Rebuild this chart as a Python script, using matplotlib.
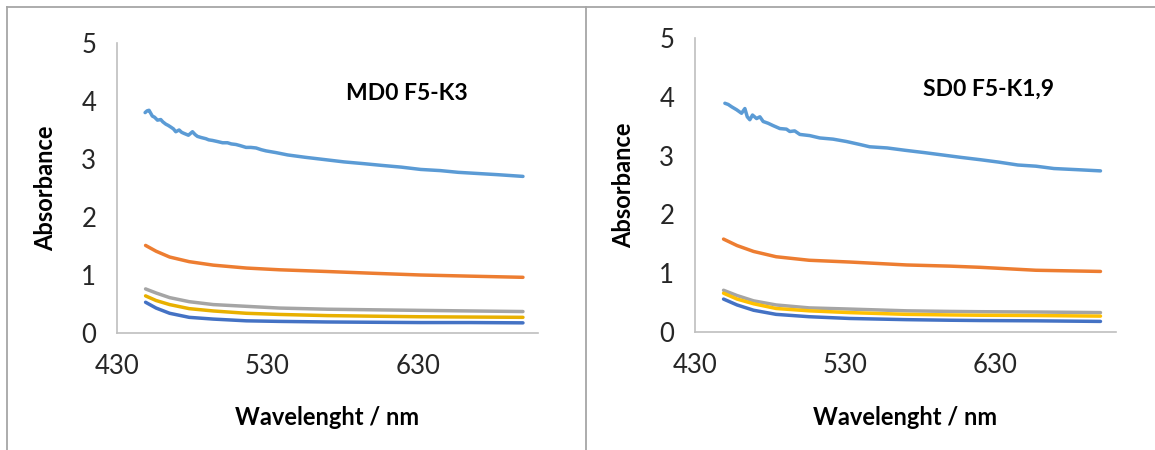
import matplotlib.pyplot as plt
from matplotlib.lines import Line2D

plt.rcParams["font.family"] = ["Lato", "DejaVu Sans"]

# colours of the five series (Excel default palette)
COLORS = ["#5B9BD5", "#ED7D31", "#A5A5A5", "#FFC000", "#4472C4"]
GOLD_LEFT = "#E8B000"

# ---- left panel: MD0 F5-K3 ----
md_title = "MD0 F5-K3"
md_wl_top = [448.7, 450, 451.3, 453.5, 455, 456.9, 459.1, 460.5, 462.5, 464,
             465.8, 467.5, 469.1, 471.3, 473, 474.7, 477.5, 480.2, 482, 483.5,
             486, 489.1, 491, 493.5, 497, 500.2, 503.5, 506, 509.1, 512,
             515.8, 519, 522.5, 526, 529.1, 535.8, 543.5, 555, 568, 581,
             594, 606, 619, 632, 645, 657, 670, 683, 700]
md_top = [3.80, 3.83, 3.84, 3.74, 3.72, 3.67, 3.68, 3.64, 3.60, 3.58,
          3.55, 3.52, 3.47, 3.50, 3.46, 3.44, 3.41, 3.47, 3.42, 3.39,
          3.37, 3.35, 3.33, 3.32, 3.30, 3.28, 3.28, 3.26, 3.25, 3.23,
          3.20, 3.20, 3.19, 3.16, 3.14, 3.11, 3.07, 3.03, 2.99, 2.95,
          2.92, 2.89, 2.86, 2.82, 2.80, 2.77, 2.75, 2.73, 2.70]
md_wl = [449, 456, 465, 478, 494, 516, 538, 570, 600, 632, 665, 700]
md_orange = [1.51, 1.41, 1.31, 1.23, 1.17, 1.12, 1.09, 1.06, 1.03, 1.00, 0.98, 0.96]
md_grey = [0.76, 0.69, 0.61, 0.54, 0.49, 0.46, 0.43, 0.41, 0.40, 0.39, 0.38, 0.37]
md_gold = [0.64, 0.56, 0.49, 0.42, 0.38, 0.34, 0.32, 0.30, 0.29, 0.28, 0.275, 0.27]
md_blue = [0.53, 0.43, 0.34, 0.27, 0.24, 0.21, 0.20, 0.19, 0.185, 0.18, 0.18, 0.175]

# ---- right panel: SD0 F5-K1,9 ----
sd_title = "SD0 F5-K1,9"
sd_wl_top = [449.9, 452.1, 454.4, 457.7, 461, 463.2, 464.8, 466.5, 468.3, 471,
             473.2, 475.4, 478.7, 482, 486.5, 490.9, 493.1, 496.4, 499.8, 506.4,
             513.1, 521.9, 530.8, 539.6, 546.3, 558, 570, 583, 595, 607,
             620, 632, 645, 657, 669, 685, 700]
sd_top = [3.89, 3.87, 3.83, 3.78, 3.72, 3.80, 3.66, 3.61, 3.69, 3.63,
          3.66, 3.58, 3.55, 3.51, 3.46, 3.45, 3.41, 3.42, 3.36, 3.34,
          3.30, 3.28, 3.24, 3.19, 3.15, 3.13, 3.09, 3.05, 3.01, 2.97,
          2.93, 2.89, 2.84, 2.82, 2.78, 2.76, 2.74]
sd_wl = [449, 458, 469, 484, 506, 533, 571, 600, 620, 657, 700]
sd_orange = [1.58, 1.47, 1.37, 1.28, 1.22, 1.19, 1.14, 1.12, 1.10, 1.05, 1.03]
sd_grey = [0.71, 0.62, 0.53, 0.46, 0.41, 0.39, 0.36, 0.35, 0.345, 0.34, 0.33]
sd_gold = [0.66, 0.56, 0.48, 0.40, 0.36, 0.33, 0.30, 0.29, 0.285, 0.28, 0.27]
sd_blue = [0.56, 0.46, 0.37, 0.30, 0.26, 0.23, 0.21, 0.20, 0.195, 0.19, 0.18]

x_ticks = [430, 530, 630]
y_ticks = [0, 1, 2, 3, 4, 5]


def draw_panel(ax, wl_top, top, wl, lows, colors, title):
    ax.plot(wl_top, top, color=colors[0], lw=2.5, solid_capstyle="round",
            solid_joinstyle="round")
    for vals, c in zip(lows, colors[1:]):
        ax.plot(wl, vals, color=c, lw=2.5, solid_capstyle="round")
    ax.set_xlim(430, 710)
    ax.set_ylim(0, 5)
    ax.set_xticks(x_ticks)
    ax.set_yticks(y_ticks)
    ax.tick_params(length=0, labelsize=18.5, pad=15, colors="#262626")
    for s in ["top", "right"]:
        ax.spines[s].set_visible(False)
    for s in ["left", "bottom"]:
        ax.spines[s].set_color("#BFBFBF")
        ax.spines[s].set_linewidth(1.2)
    ax.set_xlabel("Wavelenght / nm", fontsize=17, fontweight="bold")
    ax.set_ylabel("Absorbance", fontsize=17, fontweight="bold")
    ax.xaxis.set_label_coords(0.5, -0.253)
    ax.yaxis.set_label_coords(-0.142, 0.5)
    ax.text(582, 4.13, title, fontsize=16.5, fontweight="bold", va="center", ha="left")


def main():
    fig = plt.figure(figsize=(11.55, 4.5), dpi=100)
    ax1 = fig.add_axes([117 / 1155, 1 - 333 / 450, 421 / 1155, 290 / 450])
    ax2 = fig.add_axes([695 / 1155, 1 - 332 / 450, 420.5 / 1155, 294 / 450])

    left_colors = COLORS[:3] + [GOLD_LEFT] + COLORS[4:]
    draw_panel(ax1, md_wl_top, md_top, md_wl,
               [md_orange, md_grey, md_gold, md_blue], left_colors, md_title)
    draw_panel(ax2, sd_wl_top, sd_top, sd_wl,
               [sd_orange, sd_grey, sd_gold, sd_blue], COLORS, sd_title)

    # chart frames
    frame = dict(color="#A6A6A6", lw=1.3, transform=fig.transFigure)
    fig.add_artist(Line2D([7 / 1155, 1], [1 - 7 / 450, 1 - 7 / 450], **frame))
    fig.add_artist(Line2D([7 / 1155, 7 / 1155], [0, 1 - 7 / 450], **frame))
    fig.add_artist(Line2D([586 / 1155, 586 / 1155], [0, 1 - 7 / 450], **frame))

    fig.savefig("out.png", dpi=100)


if __name__ == "__main__":
    main()
